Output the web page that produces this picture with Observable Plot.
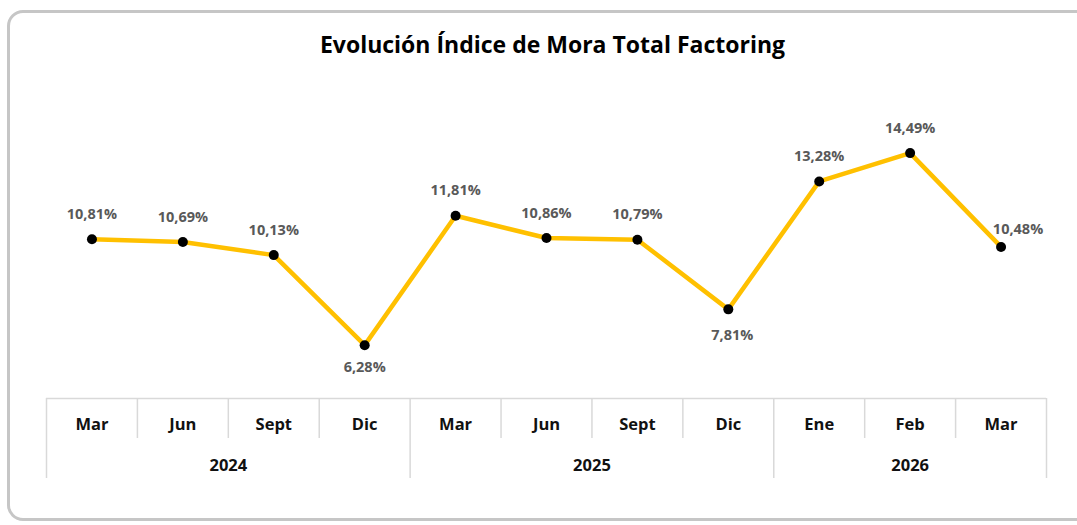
<!DOCTYPE html>
<html>
<head>
<meta charset="utf-8">
<script src="https://cdn.jsdelivr.net/npm/d3@7"></script>
<script src="https://cdn.jsdelivr.net/npm/@observablehq/plot@0.6"></script>
<style>
  html, body { margin: 0; padding: 0; background: #fff; }
  #wrap { position: relative; width: 1077px; height: 525px; overflow: hidden; font-family: "Open Sans", Lato, sans-serif; }
  #frame { position: absolute; left: 7px; top: 10px; width: 1100px; height: 511px; border: 3px solid #c6c6c6; border-radius: 16px; box-sizing: border-box; }
  #title { position: absolute; left: 28px; width: 1049px; top: 29px; text-align: center; font-size: 23px; font-weight: 700; color: #000; line-height: 30px; }
  #chart { position: absolute; left: 0; top: 0; }
</style>
</head>
<body>
<div id="wrap">
  <div id="frame"></div>
  <div id="chart"></div>
  <div id="title">Evolución Índice de Mora Total Factoring</div>
</div>
<script>
// ---- Data ----
const months = ["Mar", "Jun", "Sept", "Dic", "Mar", "Jun", "Sept", "Dic", "Ene", "Feb", "Mar"];
const years  = ["2024", "2024", "2024", "2024", "2025", "2025", "2025", "2025", "2026", "2026", "2026"];
const values = [10.81, 10.69, 10.13, 6.28, 11.81, 10.86, 10.79, 7.81, 13.28, 14.49, 10.48];
// label placement per point
const labelPos = ["top", "top", "top", "bottom", "top", "top", "top", "bottom2", "top", "top", "topright"];

// ---- Derived tables ----
const data = values.map((v, i) => ({i, v, month: months[i], year: years[i], pos: labelPos[i]}));
const yearList = Array.from(new Set(years));
const yearGroups = yearList.map(y => {
  const idx = data.filter(d => d.year === y).map(d => d.i);
  return {year: y, center: (d3.min(idx) + d3.max(idx)) / 2, start: d3.min(idx) - 0.5, end: d3.max(idx) + 0.5};
});
const yearSeps = Array.from(new Set(yearGroups.flatMap(g => [g.start, g.end])));
const monthSeps = data.slice(1).map(d => d.i - 0.5).filter(s => !yearSeps.includes(s));

const fmt = v => v.toFixed(2).replace(".", ",") + "%";
const dyFor = {top: -25, bottom: 22, bottom2: 26, topright: -18};
const dxFor = {top: 0, bottom: 0, bottom2: 4, topright: 17};

const labelMarks = Object.keys(dyFor).map(p =>
  Plot.text(data.filter(d => d.pos === p), {
    x: "i", y: "v", text: d => fmt(d.v),
    dy: dyFor[p], dx: dxFor[p],
    fill: "#595959", fontSize: 14.5, fontWeight: 700
  })
);

const chart = Plot.plot({
  width: 1077,
  height: 525,
  marginLeft: 46,
  marginRight: 31,
  marginTop: 70.5,
  marginBottom: 127,
  style: {fontFamily: "'Open Sans', Lato, sans-serif", background: "transparent", overflow: "visible"},
  x: {domain: [-0.5, values.length - 0.5], axis: null, label: null},
  y: {domain: [4, 18], axis: null, label: null},
  marks: [
    Plot.ruleY([4], {stroke: "#d9d9d9", strokeWidth: 1.5}),
    Plot.axisX({ticks: monthSeps, tickSize: 40, fill: "none", stroke: "#d9d9d9", strokeWidth: 1.5, label: null}),
    Plot.axisX({ticks: yearSeps, tickSize: 80, fill: "none", stroke: "#d9d9d9", strokeWidth: 1.5, label: null}),
    Plot.axisX({ticks: data.map(d => d.i), tickFormat: i => months[i], tickSize: 0, tickPadding: 20,
                fill: "#111", fontSize: 16.5, fontWeight: 700, label: null}),
    Plot.axisX({ticks: yearGroups.map(g => g.center), tickFormat: c => yearGroups.find(g => g.center === c).year,
                tickSize: 0, tickPadding: 61, fill: "#111", fontSize: 16.5, fontWeight: 700, label: null}),
    Plot.line(data, {x: "i", y: "v", stroke: "#FFC000", strokeWidth: 4.5, strokeLinejoin: "round"}),
    Plot.dot(data, {x: "i", y: "v", r: 5, fill: "#000", stroke: "none"}),
    ...labelMarks
  ]
});
document.getElementById("chart").appendChild(chart);
</script>
</body>
</html>
